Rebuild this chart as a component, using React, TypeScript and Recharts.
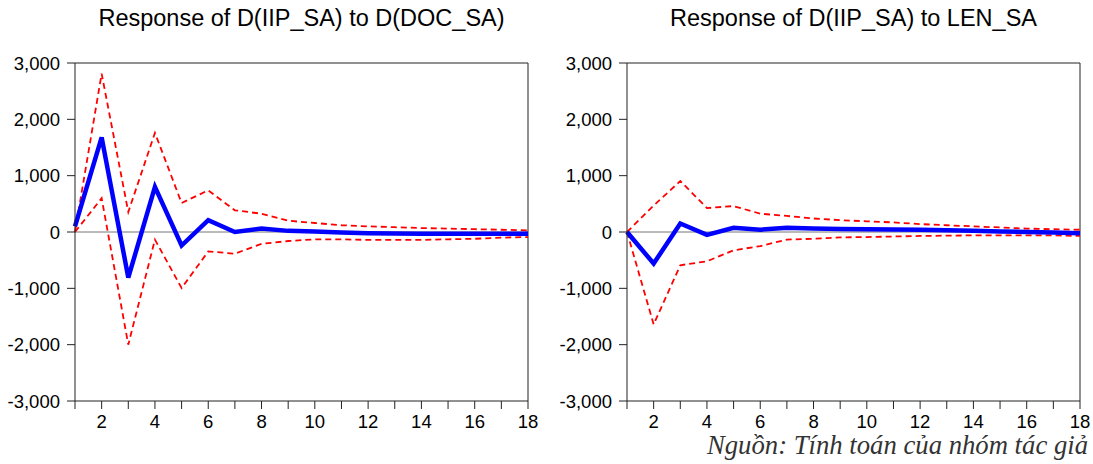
import React from 'react';
import { LineChart, Line, XAxis, YAxis, ReferenceLine } from 'recharts';

// periods 1..18
const periods = [1, 2, 3, 4, 5, 6, 7, 8, 9, 10, 11, 12, 13, 14, 15, 16, 17, 18];

// Response of D(IIP_SA) to D(DOC_SA)
const docResp = [100, 1680, -810, 800, -240, 210, 0, 60, 20, 10, -10, -20, -25, -30, -30, -30, -30, -30];
const docUpper = [0, 2810, 355, 1760, 515, 740, 385, 325, 200, 160, 120, 100, 85, 70, 60, 50, 40, 30];
const docLower = [0, 600, -2000, -135, -995, -345, -385, -210, -160, -130, -130, -140, -140, -140, -130, -120, -100, -90];

// Response of D(IIP_SA) to LEN_SA
const lenResp = [0, -560, 150, -50, 75, 40, 75, 60, 55, 50, 45, 40, 30, 20, 10, 0, -10, -20];
const lenUpper = [0, 470, 905, 425, 460, 325, 285, 240, 210, 190, 170, 140, 120, 100, 80, 60, 50, 40];
const lenLower = [0, -1640, -590, -520, -325, -250, -135, -120, -95, -90, -80, -70, -65, -60, -60, -60, -60, -70];

const yTicks = [-3000, -2000, -1000, 0, 1000, 2000, 3000];

const fmt = (v: number) => v.toLocaleString('en-US');

const tickStyle = { fontSize: 18.5, fill: '#000', fontFamily: '"Liberation Sans", Arial, sans-serif' };

interface PanelProps {
  title: string;
  resp: number[];
  upper: number[];
  lower: number[];
  left: number;
}

const Panel = ({ title, resp, upper, lower, left }: PanelProps) => {
  const data = periods.map((p, i) => ({ p, resp: resp[i], upper: upper[i], lower: lower[i] }));
  return (
    <div style={{ position: 'absolute', left, top: 0, width: 540, height: 440 }}>
      <div
        style={{
          position: 'absolute', left: 55, width: 493, top: 5, textAlign: 'center',
          fontFamily: '"Liberation Sans", Arial, sans-serif', fontSize: 23.5, color: '#000',
        }}
      >
        {title}
      </div>
      <LineChart width={540} height={440} data={data} margin={{ top: 63, right: 12, bottom: 9, left: 0 }}>
        <XAxis
          dataKey="p"
          type="number"
          domain={[1, 18]}
          ticks={periods}
          interval={0}
          tickFormatter={(v: number) => (v % 2 === 0 ? String(v) : '')}
          tickSize={8}
          tickMargin={6}
          tick={tickStyle}
          axisLine={{ stroke: '#222' }}
          tickLine={{ stroke: '#222' }}
          height={30}
        />
        <YAxis
          type="number"
          domain={[-3000, 3000]}
          ticks={yTicks}
          interval={0}
          tickFormatter={fmt}
          tickSize={8}
          tickMargin={7}
          tick={tickStyle}
          axisLine={{ stroke: '#222' }}
          tickLine={{ stroke: '#222' }}
          width={75}
        />
        <ReferenceLine y={0} stroke="#777" strokeWidth={1} />
        <ReferenceLine y={3000} stroke="#222" strokeWidth={1} />
        <ReferenceLine x={18} stroke="#222" strokeWidth={1} />
        <Line dataKey="upper" stroke="#ff0000" strokeWidth={1.8} strokeDasharray="6 4" dot={false} isAnimationActive={false} />
        <Line dataKey="lower" stroke="#ff0000" strokeWidth={1.8} strokeDasharray="6 4" dot={false} isAnimationActive={false} />
        <Line dataKey="resp" stroke="#0000ff" strokeWidth={4.5} dot={false} strokeLinejoin="miter" isAnimationActive={false} />
      </LineChart>
    </div>
  );
};

export default function App() {
  return (
    <div style={{ position: 'absolute', left: 0, top: 0, width: 1093, height: 464, background: '#fff', overflow: 'hidden' }}>
      <Panel title="Response of D(IIP_SA) to D(DOC_SA)" resp={docResp} upper={docUpper} lower={docLower} left={0} />
      <Panel title="Response of D(IIP_SA) to LEN_SA" resp={lenResp} upper={lenUpper} lower={lenLower} left={552} />
      <div
        style={{
          position: 'absolute', right: 5, top: 430, fontFamily: '"Liberation Serif", "Times New Roman", serif',
          fontStyle: 'italic', fontSize: 26.7, color: '#333', whiteSpace: 'nowrap',
        }}
      >
        Nguồn: Tính toán của nhóm tác giả
      </div>
    </div>
  );
}
